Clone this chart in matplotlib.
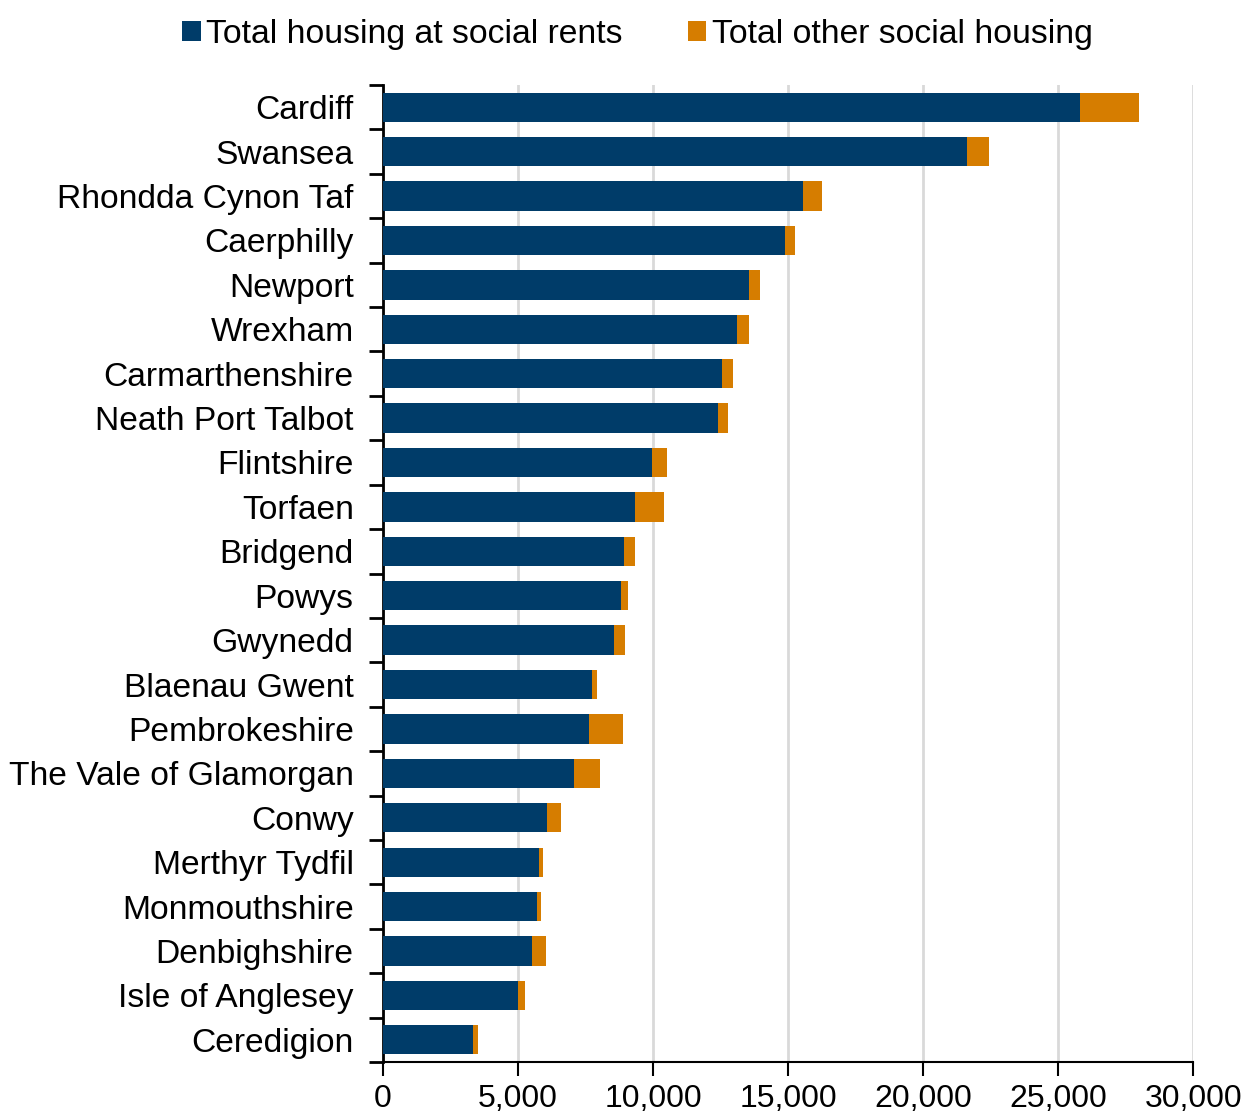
import matplotlib
matplotlib.use("Agg")
import matplotlib.pyplot as plt
import numpy as np

plt.rcParams['font.family'] = ['Liberation Sans', 'DejaVu Sans']

# Local authorities, largest first (as shown top to bottom)
areas = ["Cardiff", "Swansea", "Rhondda Cynon Taf", "Caerphilly", "Newport",
         "Wrexham", "Carmarthenshire", "Neath Port Talbot", "Flintshire",
         "Torfaen", "Bridgend", "Powys", "Gwynedd", "Blaenau Gwent",
         "Pembrokeshire", "The Vale of Glamorgan", "Conwy", "Merthyr Tydfil",
         "Monmouthshire", "Denbighshire", "Isle of Anglesey", "Ceredigion"]

social_rents = [25790, 21630, 15560, 14900, 13540, 13110, 12550, 12410, 9960,
                9330, 8930, 8810, 8540, 7740, 7630, 7070, 6070, 5790, 5700,
                5520, 5000, 3320]

other_social = [2200, 810, 700, 370, 420, 440, 420, 370, 550,
                1080, 420, 270, 430, 170, 1260, 970, 520, 120, 150,
                510, 250, 210]

x_ticks = [0, 5000, 10000, 15000, 20000, 25000, 30000]

navy = "#003c69"
orange = "#d67d00"

fig = plt.figure(figsize=(12.47, 11.17), dpi=100)
ax = fig.add_axes([0.307, 0.0492, 0.650, 0.8747])

y = np.arange(len(areas))
ax.barh(y, social_rents, height=0.66, color=navy, label="Total housing at social rents", zorder=3)
ax.barh(y, other_social, left=social_rents, height=0.66, color=orange,
        label="Total other social housing", zorder=3)

ax.set_ylim(len(areas) - 0.5, -0.5)
ax.set_xlim(0, 30000)

# category labels centred, ticks on the band boundaries
ax.set_yticks(y)
ax.set_yticklabels(areas, fontsize=24.2)
ax.tick_params(axis="y", which="major", length=0, pad=21)
ax.set_yticks(np.arange(len(areas) + 1) - 0.5, minor=True)
ax.tick_params(axis="y", which="minor", length=10, width=2, color="black")

ax.set_xticks(x_ticks)
ax.set_xticklabels([f"{v:,}" for v in x_ticks], fontsize=23)
ax.tick_params(axis="x", length=10, width=1.5, pad=6)

ax.grid(axis="x", color="#d9d9d9", linewidth=2, zorder=0)
ax.set_axisbelow(True)

for s in ["top", "right"]:
    ax.spines[s].set_visible(False)
ax.spines["left"].set_linewidth(2)
ax.spines["bottom"].set_linewidth(1.5)

fig.legend(loc="upper center", bbox_to_anchor=(0.511, 1.01), ncol=2, frameon=False,
           fontsize=24.3, handlelength=0.55, handleheight=0.55, handletextpad=0.15,
           columnspacing=1.95)

fig.savefig("out.png", dpi=100)
